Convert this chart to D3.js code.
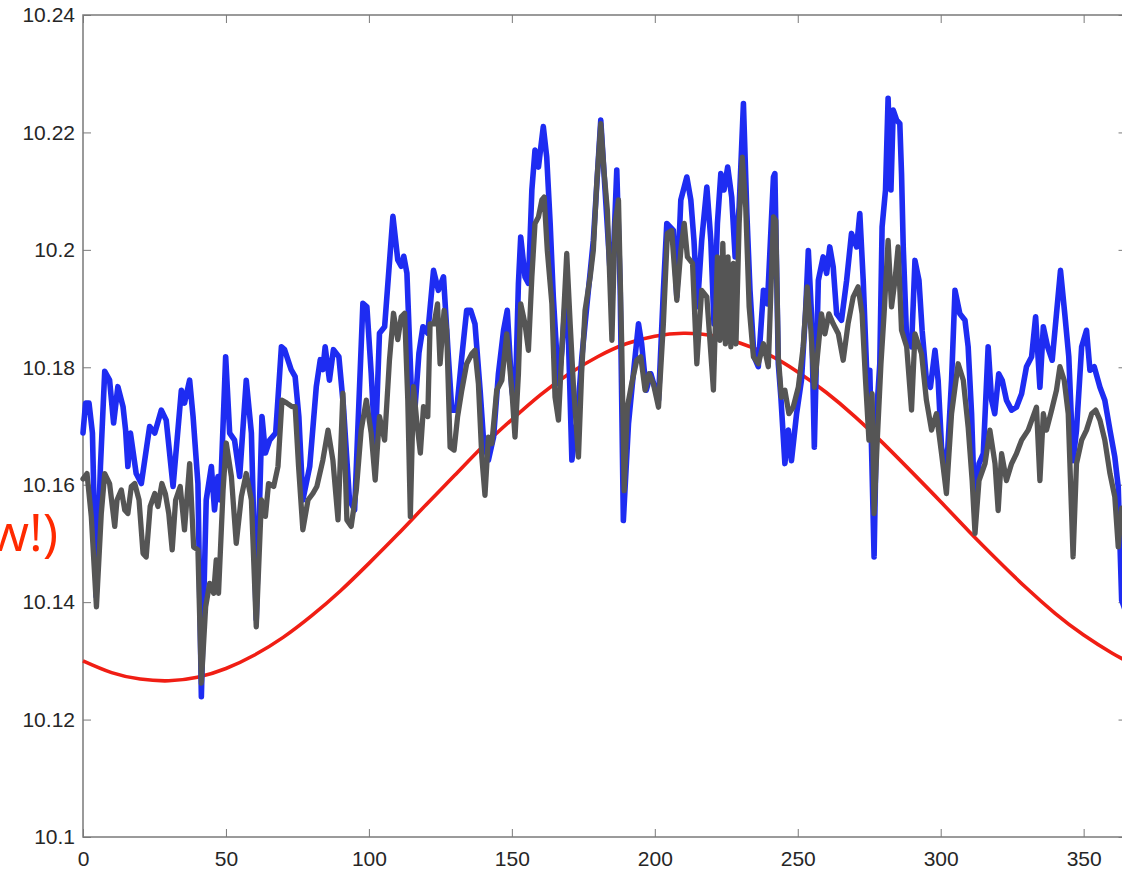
<!DOCTYPE html>
<html>
<head>
<meta charset="utf-8">
<script src="https://cdn.jsdelivr.net/npm/d3@7"></script>
<style>
  html, body { margin: 0; padding: 0; background: #fff; overflow: hidden; }
  svg { display: block; }
</style>
</head>
<body>
<svg id="chart" width="1122" height="870"></svg>
<script>
// Daily series, [day, value]
const blueSeries = [
  [0,10.1688],[0.9,10.1739],[2.1,10.1739],[3.3,10.1688],[4.6,10.1410],[6.1,10.1631],[7.6,10.1793],
  [9.3,10.1778],[10.7,10.1705],[12.2,10.1767],[14.0,10.1733],[14.9,10.1693],[15.7,10.1631],[16.6,10.1688],
  [18.6,10.1619],[20.4,10.1602],[23.3,10.1699],[25.1,10.1688],[27.4,10.1727],[29.1,10.1710],[31.5,10.1597],
  [34.4,10.1761],[35.5,10.1739],[37.3,10.1778],[38.5,10.1716],[40.2,10.1602],[41.4,10.1239],[43.1,10.1574],
  [44.9,10.1631],[46.0,10.1557],[47.2,10.1614],[48.0,10.1574],[49.9,10.1818],[51.3,10.1688],[53.0,10.1676],
  [54.8,10.1614],[57.1,10.1778],[58.9,10.1688],[60.6,10.1370],[62.6,10.1716],[63.8,10.1654],[65.3,10.1676],
  [67.4,10.1688],[69.4,10.1835],[70.5,10.1830],[72.8,10.1796],[74.2,10.1784],[75.5,10.1716],[76.9,10.1574],
  [79.3,10.1631],[81.6,10.1767],[83.0,10.1813],[83.9,10.1796],[84.7,10.1835],[86.2,10.1778],[87.6,10.1830],
  [89.5,10.1818],[91.1,10.1733],[93.2,10.1574],[95.0,10.1557],[97.9,10.1909],[99.3,10.1903],[100.8,10.1790],
  [102.2,10.1659],[103.7,10.1858],[105.5,10.1869],[108.4,10.2057],[110.1,10.1983],[111.3,10.1972],
  [112.2,10.1989],[113.3,10.1960],[114.8,10.1767],[116.0,10.1722],[117.5,10.1824],[118.9,10.1869],
  [120.6,10.1858],[122.6,10.1965],[124.3,10.1931],[126.1,10.1954],[127.8,10.1818],[129.0,10.1727],
  [130.7,10.1727],[132.5,10.1818],[134.2,10.1897],[135.6,10.1897],[137.1,10.1874],[138.9,10.1761],
  [140.1,10.1676],[141.8,10.1642],[143.6,10.1681],[145.3,10.1789],[147.1,10.1863],[148.4,10.1897],
  [150.0,10.1761],[151.1,10.1727],[152.3,10.1943],[153.1,10.2022],[154.6,10.1954],[155.8,10.1943],
  [157.0,10.2102],[158.1,10.2170],[159.3,10.2141],[161.0,10.2210],[162.2,10.2158],[163.4,10.2045],
  [164.5,10.1920],[166.3,10.1772],[167.5,10.1829],[169.2,10.1950],[171.0,10.1642],[172.7,10.1704],
  [174.5,10.1818],[176.2,10.1903],[178.5,10.2016],[181.1,10.2221],[182.6,10.2102],[184.4,10.1960],
  [185.5,10.1988],[186.7,10.2136],[187.9,10.1931],[189.0,10.1539],[190.8,10.1704],[192.5,10.1789],
  [194.3,10.1874],[195.4,10.1840],[197.0,10.1761],[198.6,10.1789],[201.3,10.1744],[203.0,10.1931],
  [204.2,10.2045],[206.5,10.2033],[207.7,10.1920],[209.1,10.2085],[211.2,10.2124],[212.6,10.2085],
  [213.7,10.2016],[214.9,10.1903],[216.4,10.2016],[218.2,10.2107],[219.6,10.2016],[220.7,10.1874],
  [221.9,10.2045],[223.1,10.2130],[224.2,10.2102],[225.5,10.2141],[226.9,10.2090],[228.1,10.1988],
  [229.5,10.2073],[231.0,10.2249],[232.2,10.2062],[233.3,10.1931],[234.7,10.1818],[236.2,10.1801],
  [238.0,10.1931],[239.4,10.1908],[241.5,10.2124],[242.0,10.2130],[243.2,10.1806],[244.1,10.1749],
  [245.5,10.1636],[246.7,10.1693],[247.8,10.1641],[249.6,10.1721],[251.3,10.1778],[252.7,10.1891],
  [253.7,10.1999],[254.8,10.1891],[255.8,10.1664],[257.2,10.1948],[258.9,10.1988],[260.1,10.1960],
  [261.2,10.2005],[262.4,10.1971],[263.6,10.1891],[265.3,10.1880],[267.1,10.1948],[268.8,10.2028],
  [270.6,10.2005],[271.7,10.2062],[272.9,10.1948],[274.1,10.1795],[275.2,10.1795],[275.8,10.1664],
  [276.7,10.1477],[277.6,10.1721],[278.7,10.1806],[279.5,10.2039],[280.7,10.2102],[281.6,10.2258],
  [282.6,10.2102],[283.4,10.2238],[284.6,10.2221],[285.7,10.2215],[286.3,10.2130],[286.9,10.2005],
  [288.1,10.1846],[289.8,10.1835],[291.0,10.1982],[292.4,10.1948],[293.5,10.1863],[295.0,10.1778],
  [296.4,10.1766],[298.0,10.1829],[299.1,10.1778],[300.3,10.1664],[302.0,10.1619],[303.8,10.1778],
  [305.0,10.1931],[306.7,10.1891],[308.5,10.1880],[309.6,10.1835],[310.8,10.1721],[312.0,10.1539],
  [313.4,10.1636],[314.9,10.1653],[316.6,10.1835],[317.8,10.1744],[318.9,10.1721],[320.3,10.1789],
  [321.5,10.1778],[323.0,10.1744],[324.8,10.1727],[326.5,10.1732],[328.3,10.1755],[330.0,10.1801],
  [331.8,10.1818],[333.2,10.1886],[334.7,10.1766],[335.9,10.1869],[337.4,10.1835],[339.0,10.1812],
  [340.5,10.1891],[341.9,10.1965],[343.4,10.1891],[344.8,10.1818],[346.3,10.1641],[347.5,10.1693],
  [349.3,10.1835],[351.0,10.1863],[352.2,10.1795],[353.7,10.1801],[355.7,10.1766],[357.4,10.1744],
  [359.2,10.1693],[360.9,10.1647],[362.1,10.1596],[363.3,10.1403],[365,10.1380]
];

const graySeries = [
  [0,10.1610],[1.4,10.1619],[2.9,10.1546],[4.7,10.1392],[6.4,10.1551],[7.6,10.1619],[9.3,10.1602],
  [11.1,10.1529],[11.9,10.1574],[13.4,10.1591],[14.6,10.1557],[15.7,10.1551],[16.9,10.1597],[18.1,10.1602],
  [19.6,10.1574],[21.0,10.1483],[22.1,10.1477],[23.5,10.1563],[25.1,10.1585],[26.2,10.1563],[27.6,10.1602],
  [28.8,10.1585],[30.0,10.1551],[31.2,10.1489],[32.4,10.1574],[34.0,10.1597],[35.5,10.1523],[37.3,10.1636],
  [38.7,10.1494],[40.2,10.1489],[41.4,10.1262],[42.9,10.1392],[44.3,10.1432],[45.7,10.1415],[46.6,10.1472],
  [47.4,10.1415],[49.0,10.1591],[50.1,10.1671],[51.9,10.1614],[53.6,10.1500],[55.4,10.1580],[57.1,10.1619],
  [58.9,10.1574],[60.6,10.1358],[62.4,10.1574],[63.8,10.1546],[64.9,10.1602],[66.7,10.1597],[68.2,10.1631],
  [69.6,10.1744],[71.3,10.1739],[73.1,10.1733],[74.2,10.1733],[75.4,10.1631],[76.9,10.1523],[78.7,10.1574],
  [80.4,10.1585],[81.8,10.1597],[83.9,10.1642],[85.7,10.1693],[87.4,10.1642],[89.2,10.1540],[90.9,10.1756],
  [92.3,10.1540],[93.8,10.1529],[95.6,10.1591],[97.3,10.1693],[99.1,10.1744],[100.8,10.1688],[102.2,10.1608],
  [103.7,10.1716],[105.5,10.1676],[107.2,10.1813],[108.6,10.1892],[110.1,10.1847],[111.3,10.1886],
  [112.5,10.1892],[113.6,10.1744],[114.5,10.1546],[115.6,10.1767],[116.8,10.1705],[118.0,10.1654],
  [119.1,10.1733],[120.6,10.1716],[121.4,10.1874],[122.8,10.1874],[124.0,10.1908],[124.9,10.1806],
  [126.3,10.1897],[127.2,10.1863],[128.4,10.1664],[129.8,10.1659],[131.0,10.1715],[132.5,10.1761],
  [134.2,10.1806],[136.0,10.1823],[137.1,10.1829],[138.3,10.1772],[139.5,10.1647],[140.6,10.1582],
  [141.8,10.1681],[143.0,10.1670],[144.7,10.1761],[146.5,10.1778],[148.2,10.1857],[150.0,10.1761],
  [151.1,10.1681],[152.3,10.1789],[153.1,10.1908],[154.6,10.1874],[155.8,10.1829],[157.0,10.1954],
  [158.1,10.2045],[159.3,10.2056],[160.5,10.2085],[161.3,10.2090],[162.4,10.1999],[164.0,10.1908],
  [165.1,10.1749],[166.3,10.1710],[167.5,10.1829],[169.2,10.1994],[170.4,10.1874],[171.5,10.1772],
  [173.3,10.1647],[174.4,10.1789],[175.6,10.1897],[177.4,10.1954],[178.5,10.1999],[179.7,10.2113],
  [181.1,10.2215],[182.3,10.2130],[183.4,10.2068],[185.0,10.1846],[186.1,10.2045],[187.3,10.2085],
  [188.4,10.1846],[189.3,10.1590],[190.4,10.1732],[191.9,10.1772],[193.7,10.1812],[195.1,10.1818],
  [196.6,10.1761],[198.0,10.1789],[199.5,10.1772],[201.3,10.1732],[203.0,10.1874],[204.4,10.2028],
  [205.9,10.2033],[207.7,10.1914],[209.1,10.1999],[210.3,10.2045],[211.4,10.1988],[213.2,10.1977],
  [214.7,10.1806],[216.4,10.1931],[218.2,10.1920],[220.5,10.1761],[221.9,10.1988],[222.8,10.1846],
  [223.8,10.2011],[224.7,10.1840],[225.6,10.1988],[226.6,10.1835],[227.5,10.1977],[228.4,10.1840],
  [229.5,10.2045],[230.6,10.2158],[231.8,10.2073],[233.0,10.1903],[234.5,10.1818],[236.2,10.1806],
  [238.0,10.1840],[239.7,10.1801],[241.5,10.2056],[242.3,10.2050],[243.2,10.1818],[244.3,10.1749],
  [245.5,10.1761],[246.9,10.1721],[248.4,10.1732],[250.2,10.1766],[251.9,10.1835],[253.3,10.1937],
  [254.6,10.1863],[255.8,10.1766],[257.2,10.1835],[258.3,10.1891],[259.5,10.1857],[260.9,10.1891],
  [262.4,10.1874],[264.2,10.1857],[265.9,10.1812],[267.6,10.1874],[269.4,10.1920],[271.1,10.1937],
  [272.5,10.1891],[273.7,10.1778],[274.9,10.1676],[276.0,10.1755],[276.7,10.1551],[277.7,10.1664],
  [279.1,10.1806],[280.2,10.1891],[281.6,10.2016],[282.8,10.1903],[284.0,10.1948],[285.1,10.2005],
  [286.3,10.1863],[288.1,10.1835],[289.8,10.1727],[291.0,10.1857],[293.3,10.1823],[295.0,10.1744],
  [296.8,10.1693],[298.5,10.1721],[300.3,10.1653],[302.0,10.1585],[303.8,10.1721],[306.1,10.1806],
  [307.9,10.1778],[309.6,10.1698],[311.0,10.1607],[312.0,10.1517],[313.4,10.1607],[315.5,10.1636],
  [317.2,10.1693],[319.0,10.1636],[320.1,10.1556],[321.3,10.1653],[323.0,10.1607],[324.8,10.1636],
  [326.5,10.1653],[328.3,10.1676],[330.6,10.1693],[333.5,10.1732],[334.7,10.1607],[335.9,10.1721],
  [337.0,10.1693],[338.8,10.1727],[340.5,10.1761],[341.7,10.1801],[343.2,10.1778],[344.6,10.1721],
  [346.3,10.1477],[347.5,10.1636],[349.3,10.1676],[351.0,10.1693],[352.8,10.1721],[354.2,10.1727],
  [355.7,10.1710],[357.4,10.1676],[359.2,10.1619],[360.9,10.1579],[362.1,10.1494],[363.3,10.1560],
  [365,10.1490]
];

// Seasonal reference curve, sampled every 10 days
const redDays = [0,10,20,30,40,50,60,70,80,90,100,110,120,130,140,150,160,170,180,
                 190,200,210,220,230,240,250,260,270,280,290,300,310,320,330,340,350,360,365];
const redVals = [10.1300,10.1280,10.1269,10.1266,10.1272,10.1287,10.1310,10.1340,10.1377,
                 10.1419,10.1466,10.1515,10.1566,10.1616,10.1666,10.1711,10.1753,10.1789,
                 10.1818,10.1840,10.1853,10.1858,10.1854,10.1841,10.1821,10.1792,10.1757,
                 10.1716,10.1670,10.1621,10.1571,10.1520,10.1471,10.1424,10.1381,10.1344,
                 10.1313,10.1300];

const xTicks = [0, 50, 100, 150, 200, 250, 300, 350];
const xTickLabels = ["0", "50", "100", "150", "200", "250", "300", "350"];
const yTicks = [10.1, 10.12, 10.14, 10.16, 10.18, 10.2, 10.22, 10.24];
const yTickLabels = ["10.1", "10.12", "10.14", "10.16", "10.18", "10.2", "10.22", "10.24"];

const svg = d3.select("#chart");
const plotLeft = 83, plotTop = 15, plotBottom = 837;
const plotRight = plotLeft + 365 * 2.859;

const x = d3.scaleLinear().domain([0, 365]).range([plotLeft, plotRight]);
const y = d3.scaleLinear().domain([10.1, 10.24]).range([plotBottom, plotTop]);

const font = "'Liberation Sans', Arial, Helvetica, sans-serif";
const axisColor = "#7a7a7a";

// Axes with inward ticks on all four sides
function styleAxis(g) {
  g.select(".domain").remove();
  g.selectAll(".tick line").attr("stroke", axisColor).attr("stroke-width", 1);
  g.selectAll(".tick text").attr("fill", "#262626")
    .style("font-family", font).style("font-size", "21px");
}

svg.append("g")
  .attr("transform", `translate(0,${plotBottom})`)
  .call(d3.axisBottom(x).tickValues(xTicks).tickFormat((d, i) => xTickLabels[i])
    .tickSizeInner(-8).tickSizeOuter(0).tickPadding(14))
  .call(styleAxis);

svg.append("g")
  .attr("transform", `translate(0,${plotTop})`)
  .call(d3.axisTop(x).tickValues(xTicks).tickFormat("").tickSizeInner(-8).tickSizeOuter(0))
  .call(styleAxis);

svg.append("g")
  .attr("transform", `translate(${plotLeft},0)`)
  .call(d3.axisLeft(y).tickValues(yTicks).tickFormat((d, i) => yTickLabels[i])
    .tickSizeInner(-8).tickSizeOuter(0).tickPadding(8))
  .call(styleAxis);

svg.append("g")
  .attr("transform", `translate(${plotRight},0)`)
  .call(d3.axisRight(y).tickValues(yTicks).tickFormat("").tickSizeInner(-8).tickSizeOuter(0))
  .call(styleAxis);

svg.append("rect")
  .attr("x", plotLeft).attr("y", plotTop)
  .attr("width", plotRight - plotLeft).attr("height", plotBottom - plotTop)
  .attr("fill", "none").attr("stroke", axisColor).attr("stroke-width", 1.5);

// Lines
const line = d3.line().x(d => x(d[0])).y(d => y(d[1]));
const smooth = d3.line().x(d => x(d[0])).y(d => y(d[1])).curve(d3.curveNatural);

svg.append("path")
  .datum(redDays.map((d, i) => [d, redVals[i]]))
  .attr("d", smooth)
  .attr("fill", "none").attr("stroke", "#f01e14").attr("stroke-width", 3.6);

svg.append("path")
  .datum(blueSeries)
  .attr("d", line)
  .attr("fill", "none").attr("stroke", "#1e2cf2").attr("stroke-width", 5.6)
  .attr("stroke-linejoin", "round").attr("stroke-linecap", "round");

svg.append("path")
  .datum(graySeries)
  .attr("d", line)
  .attr("fill", "none").attr("stroke", "#555555").attr("stroke-width", 5.3)
  .attr("stroke-linejoin", "round").attr("stroke-linecap", "round");

// Annotation text at the left margin
svg.append("text")
  .attr("x", 58).attr("y", 551)
  .attr("text-anchor", "end")
  .attr("fill", "#ff2a00")
  .style("font-family", "'Open Sans', 'Noto Sans', sans-serif")
  .style("font-size", "52px")
  .text("w!)");
</script>
</body>
</html>
